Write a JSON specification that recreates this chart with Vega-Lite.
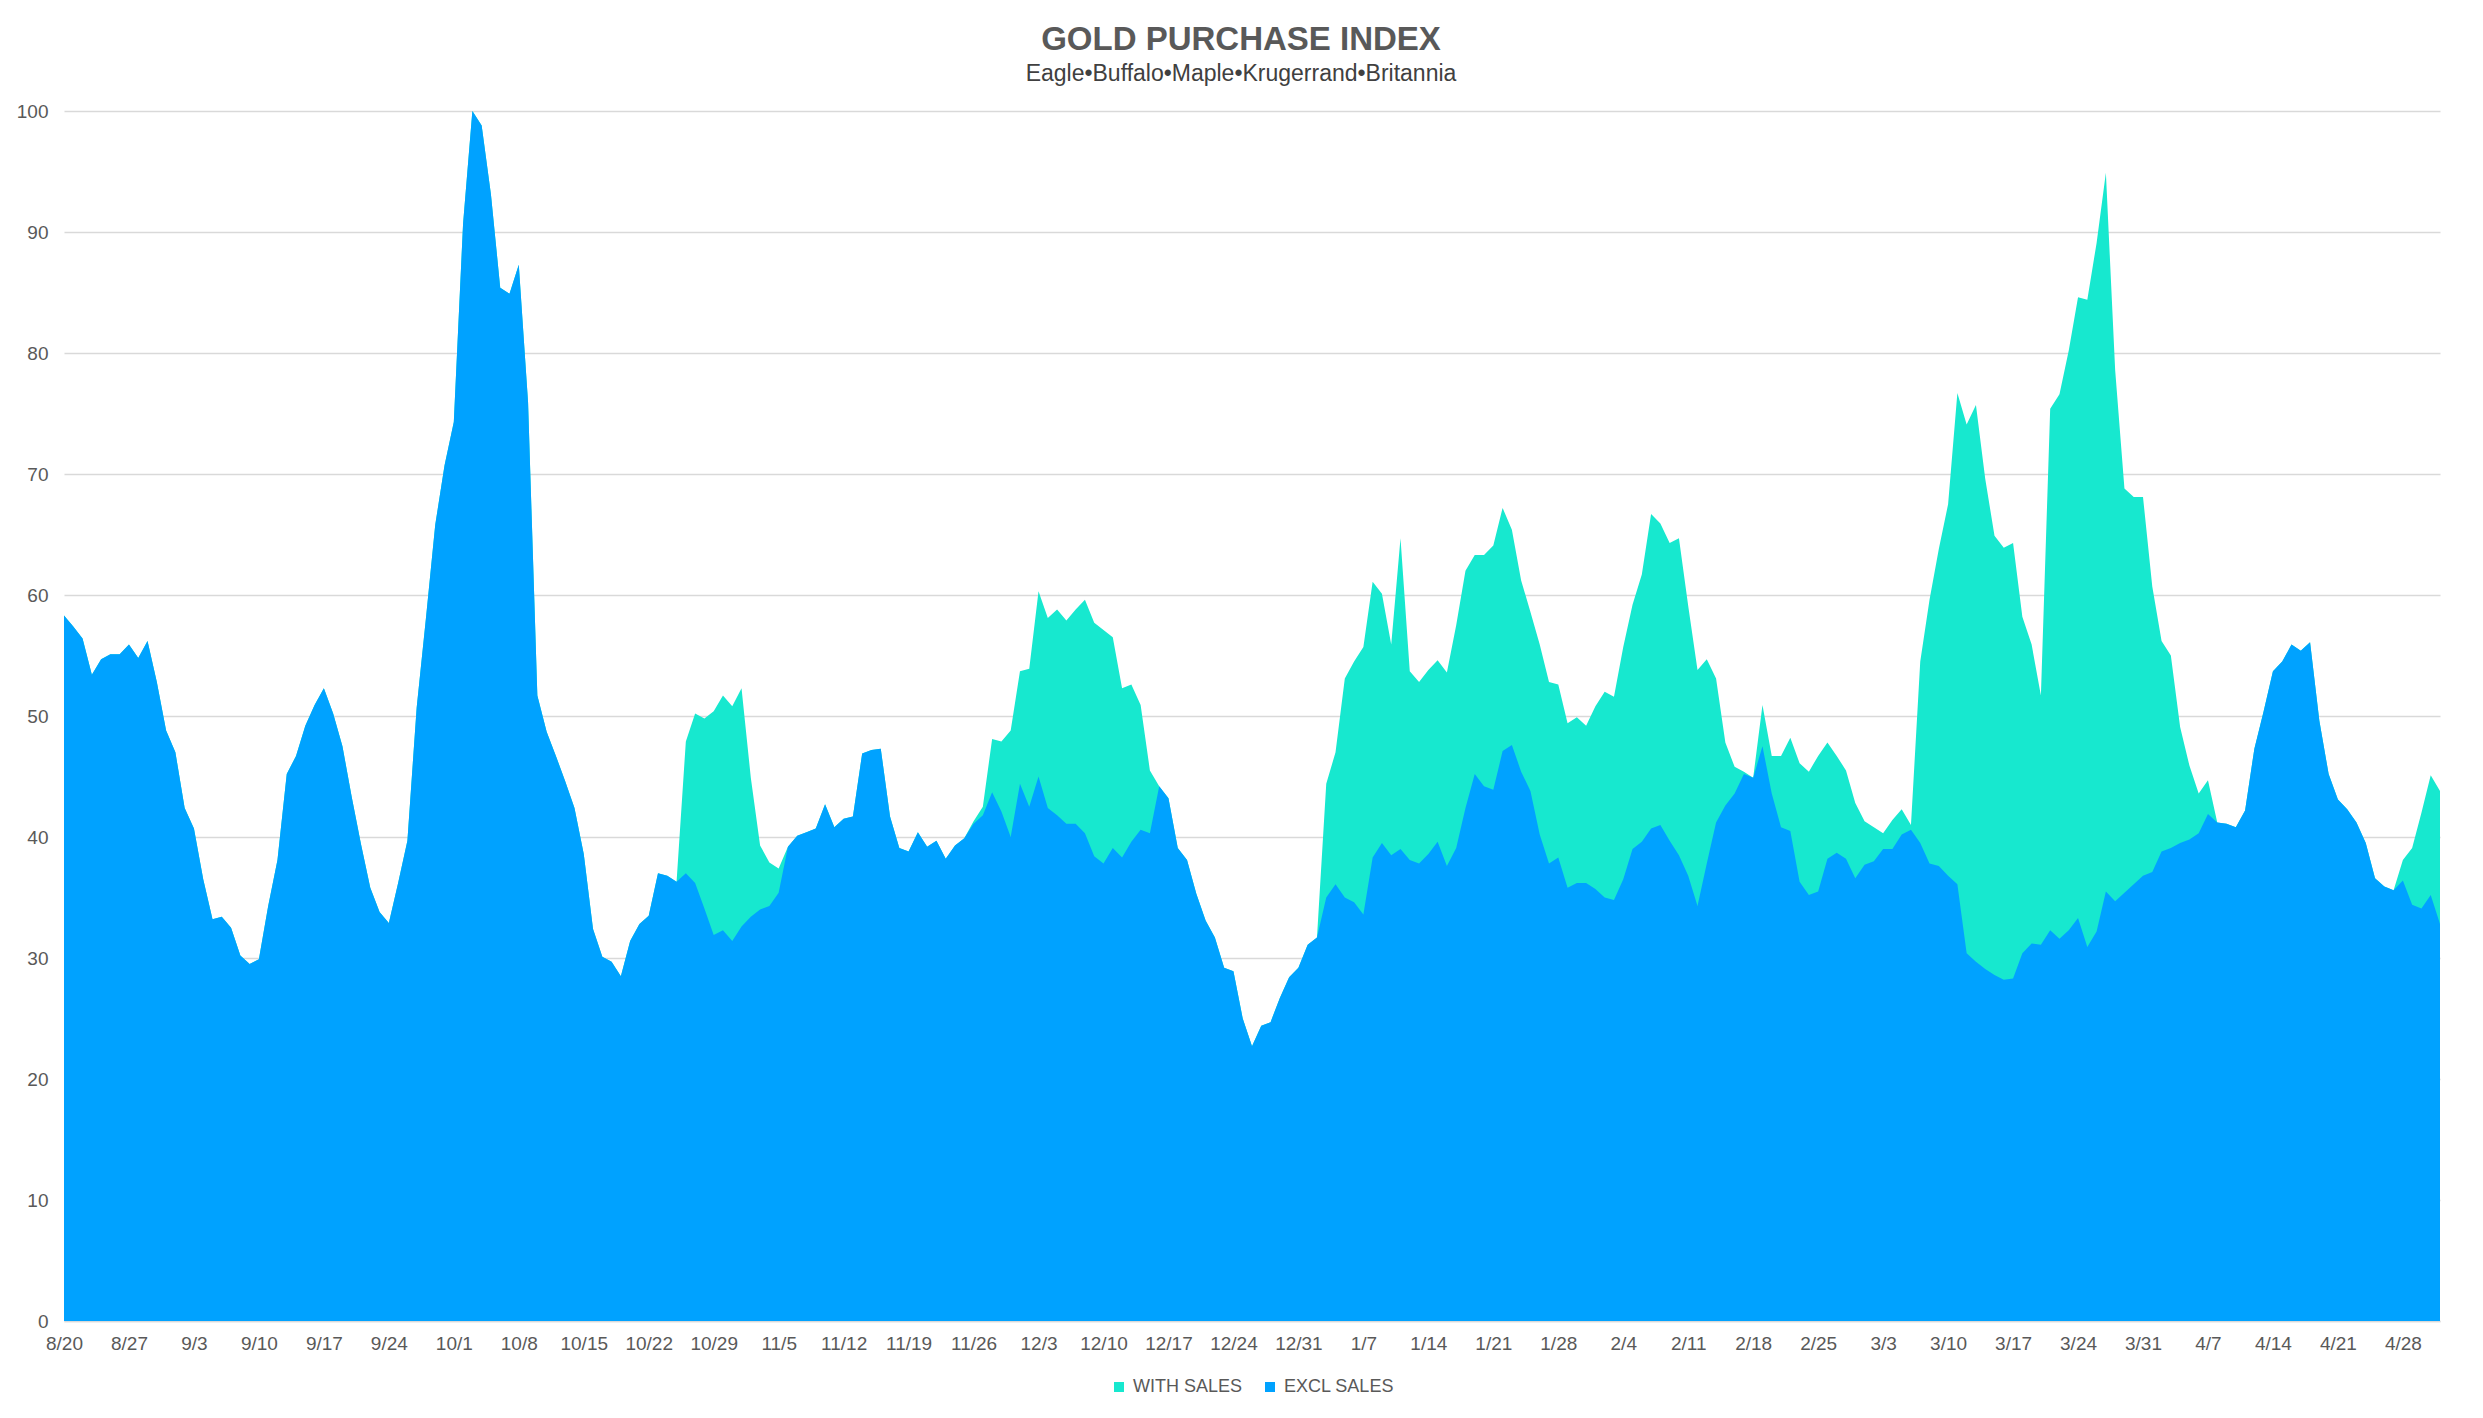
{
"$schema": "https://vega.github.io/schema/vega-lite/v6.json",
"width": 2376, "height": 1210,
"autosize": "none",
"padding": {"left": 64, "top": 111, "right": 43, "bottom": 97},
"background": "white",
"config": {"view": {"stroke": null}, "font": "Liberation Sans", "legend": {"layout": {"bottom": {"anchor": "middle"}}}},
"title": {"text": "GOLD PURCHASE INDEX", "subtitle": "Eagle•Buffalo•Maple•Krugerrand•Britannia", "font": "Liberation Sans", "subtitleFont": "Liberation Sans", "fontSize": 33, "fontWeight": "bold", "color": "#595959", "subtitleFontSize": 23, "subtitleColor": "#404040", "subtitlePadding": 6, "anchor": "middle", "offset": 16, "dx": -11},
"data": {"values": [
{"d":"2019/08/20","e":58.3,"w":58.3},{"d":"2019/08/21","e":57.4,"w":57.4},{"d":"2019/08/22","e":56.4,"w":56.4},{"d":"2019/08/23","e":53.4,"w":53.4},{"d":"2019/08/24","e":54.7,"w":54.7},{"d":"2019/08/25","e":55.1,"w":55.1},{"d":"2019/08/26","e":55.1,"w":55.1},{"d":"2019/08/27","e":55.9,"w":55.9},{"d":"2019/08/28","e":54.8,"w":54.8},{"d":"2019/08/29","e":56.2,"w":56.2},{"d":"2019/08/30","e":52.8,"w":52.8},{"d":"2019/08/31","e":48.8,"w":48.8},
{"d":"2019/09/01","e":47.0,"w":47.0},{"d":"2019/09/02","e":42.4,"w":42.4},{"d":"2019/09/03","e":40.7,"w":40.7},{"d":"2019/09/04","e":36.5,"w":36.5},{"d":"2019/09/05","e":33.2,"w":33.2},{"d":"2019/09/06","e":33.4,"w":33.4},{"d":"2019/09/07","e":32.5,"w":32.5},{"d":"2019/09/08","e":30.2,"w":30.2},{"d":"2019/09/09","e":29.5,"w":29.5},{"d":"2019/09/10","e":29.9,"w":29.9},{"d":"2019/09/11","e":34.3,"w":34.3},{"d":"2019/09/12","e":38.1,"w":38.1},{"d":"2019/09/13","e":45.2,"w":45.2},{"d":"2019/09/14","e":46.7,"w":46.7},{"d":"2019/09/15","e":49.2,"w":49.2},{"d":"2019/09/16","e":50.9,"w":50.9},{"d":"2019/09/17","e":52.3,"w":52.3},{"d":"2019/09/18","e":50.2,"w":50.2},{"d":"2019/09/19","e":47.5,"w":47.5},{"d":"2019/09/20","e":43.3,"w":43.3},{"d":"2019/09/21","e":39.4,"w":39.4},{"d":"2019/09/22","e":35.8,"w":35.8},{"d":"2019/09/23","e":33.8,"w":33.8},{"d":"2019/09/24","e":32.9,"w":32.9},{"d":"2019/09/25","e":36.2,"w":36.2},{"d":"2019/09/26","e":39.7,"w":39.7},{"d":"2019/09/27","e":50.7,"w":50.7},{"d":"2019/09/28","e":58.1,"w":58.1},{"d":"2019/09/29","e":65.8,"w":65.8},{"d":"2019/09/30","e":70.7,"w":70.7},
{"d":"2019/10/01","e":74.3,"w":74.3},{"d":"2019/10/02","e":90.7,"w":90.7},{"d":"2019/10/03","e":100,"w":100},{"d":"2019/10/04","e":98.8,"w":98.8},{"d":"2019/10/05","e":93.1,"w":93.1},{"d":"2019/10/06","e":85.4,"w":85.4},{"d":"2019/10/07","e":84.9,"w":84.9},{"d":"2019/10/08","e":87.3,"w":87.3},{"d":"2019/10/09","e":75.9,"w":75.9},{"d":"2019/10/10","e":51.7,"w":51.7},{"d":"2019/10/11","e":48.7,"w":48.7},{"d":"2019/10/12","e":46.7,"w":46.7},{"d":"2019/10/13","e":44.6,"w":44.6},{"d":"2019/10/14","e":42.4,"w":42.4},{"d":"2019/10/15","e":38.6,"w":38.6},{"d":"2019/10/16","e":32.4,"w":32.4},{"d":"2019/10/17","e":30.1,"w":30.1},{"d":"2019/10/18","e":29.7,"w":29.7},{"d":"2019/10/19","e":28.5,"w":28.5},{"d":"2019/10/20","e":31.4,"w":31.4},{"d":"2019/10/21","e":32.8,"w":32.8},{"d":"2019/10/22","e":33.5,"w":33.5},{"d":"2019/10/23","e":37.0,"w":37.0},{"d":"2019/10/24","e":36.8,"w":36.8},{"d":"2019/10/25","e":36.3,"w":36.3},{"d":"2019/10/26","e":37.0,"w":47.9},{"d":"2019/10/27","e":36.2,"w":50.2},{"d":"2019/10/28","e":34.1,"w":49.8},{"d":"2019/10/29","e":31.9,"w":50.4},{"d":"2019/10/30","e":32.3,"w":51.7},{"d":"2019/10/31","e":31.4,"w":50.8},
{"d":"2019/11/01","e":32.6,"w":52.3},{"d":"2019/11/02","e":33.4,"w":44.9},{"d":"2019/11/03","e":34.0,"w":39.3},{"d":"2019/11/04","e":34.3,"w":37.9},{"d":"2019/11/05","e":35.4,"w":37.4},{"d":"2019/11/06","e":39.2,"w":39.2},{"d":"2019/11/07","e":40.1,"w":40.1},{"d":"2019/11/08","e":40.4,"w":40.4},{"d":"2019/11/09","e":40.7,"w":40.7},{"d":"2019/11/10","e":42.7,"w":42.7},{"d":"2019/11/11","e":40.8,"w":40.8},{"d":"2019/11/12","e":41.5,"w":41.5},{"d":"2019/11/13","e":41.7,"w":41.7},{"d":"2019/11/14","e":46.9,"w":46.9},{"d":"2019/11/15","e":47.2,"w":47.2},{"d":"2019/11/16","e":47.3,"w":47.3},{"d":"2019/11/17","e":41.7,"w":41.7},{"d":"2019/11/18","e":39.1,"w":39.1},{"d":"2019/11/19","e":38.8,"w":38.8},{"d":"2019/11/20","e":40.4,"w":40.4},{"d":"2019/11/21","e":39.2,"w":39.2},{"d":"2019/11/22","e":39.7,"w":39.7},{"d":"2019/11/23","e":38.2,"w":38.2},{"d":"2019/11/24","e":39.3,"w":39.3},{"d":"2019/11/25","e":39.9,"w":39.9},{"d":"2019/11/26","e":41.1,"w":41.3},{"d":"2019/11/27","e":41.8,"w":42.5},{"d":"2019/11/28","e":43.7,"w":48.1},{"d":"2019/11/29","e":42.1,"w":47.9},{"d":"2019/11/30","e":40.0,"w":48.8},
{"d":"2019/12/01","e":44.4,"w":53.7},{"d":"2019/12/02","e":42.5,"w":53.9},{"d":"2019/12/03","e":45.0,"w":60.3},{"d":"2019/12/04","e":42.4,"w":58.1},{"d":"2019/12/05","e":41.8,"w":58.8},{"d":"2019/12/06","e":41.1,"w":57.9},{"d":"2019/12/07","e":41.1,"w":58.8},{"d":"2019/12/08","e":40.3,"w":59.6},{"d":"2019/12/09","e":38.4,"w":57.7},{"d":"2019/12/10","e":37.8,"w":57.1},{"d":"2019/12/11","e":39.1,"w":56.5},{"d":"2019/12/12","e":38.3,"w":52.3},{"d":"2019/12/13","e":39.6,"w":52.6},{"d":"2019/12/14","e":40.6,"w":50.9},{"d":"2019/12/15","e":40.3,"w":45.5},{"d":"2019/12/16","e":44.2,"w":44.2},{"d":"2019/12/17","e":43.2,"w":43.2},{"d":"2019/12/18","e":39.1,"w":39.1},{"d":"2019/12/19","e":38.1,"w":38.1},{"d":"2019/12/20","e":35.3,"w":35.3},{"d":"2019/12/21","e":33.1,"w":33.1},{"d":"2019/12/22","e":31.7,"w":31.7},{"d":"2019/12/23","e":29.2,"w":29.2},{"d":"2019/12/24","e":28.9,"w":28.9},{"d":"2019/12/25","e":25.0,"w":25.0},{"d":"2019/12/26","e":22.7,"w":22.7},{"d":"2019/12/27","e":24.4,"w":24.4},{"d":"2019/12/28","e":24.7,"w":24.7},{"d":"2019/12/29","e":26.7,"w":26.7},{"d":"2019/12/30","e":28.4,"w":28.4},{"d":"2019/12/31","e":29.2,"w":29.2},
{"d":"2020/01/01","e":31.1,"w":31.1},{"d":"2020/01/02","e":31.7,"w":31.7},{"d":"2020/01/03","e":35.0,"w":44.4},{"d":"2020/01/04","e":36.1,"w":47.0},{"d":"2020/01/05","e":35.0,"w":53.1},{"d":"2020/01/06","e":34.6,"w":54.5},{"d":"2020/01/07","e":33.6,"w":55.7},{"d":"2020/01/08","e":38.3,"w":61.1},{"d":"2020/01/09","e":39.5,"w":60.1},{"d":"2020/01/10","e":38.5,"w":55.9},{"d":"2020/01/11","e":39.0,"w":64.7},{"d":"2020/01/12","e":38.1,"w":53.7},{"d":"2020/01/13","e":37.8,"w":52.8},{"d":"2020/01/14","e":38.6,"w":53.8},{"d":"2020/01/15","e":39.6,"w":54.6},{"d":"2020/01/16","e":37.6,"w":53.6},{"d":"2020/01/17","e":39.1,"w":57.5},{"d":"2020/01/18","e":42.4,"w":62.0},{"d":"2020/01/19","e":45.2,"w":63.3},{"d":"2020/01/20","e":44.2,"w":63.3},{"d":"2020/01/21","e":43.9,"w":64.1},{"d":"2020/01/22","e":47.1,"w":67.2},{"d":"2020/01/23","e":47.6,"w":65.4},{"d":"2020/01/24","e":45.4,"w":61.2},{"d":"2020/01/25","e":43.8,"w":58.6},{"d":"2020/01/26","e":40.2,"w":55.9},{"d":"2020/01/27","e":37.8,"w":52.8},{"d":"2020/01/28","e":38.3,"w":52.6},{"d":"2020/01/29","e":35.8,"w":49.4},{"d":"2020/01/30","e":36.2,"w":49.9},{"d":"2020/01/31","e":36.2,"w":49.2},
{"d":"2020/02/01","e":35.7,"w":50.8},{"d":"2020/02/02","e":35.0,"w":52.0},{"d":"2020/02/03","e":34.8,"w":51.6},{"d":"2020/02/04","e":36.5,"w":55.7},{"d":"2020/02/05","e":39.0,"w":59.2},{"d":"2020/02/06","e":39.6,"w":61.7},{"d":"2020/02/07","e":40.7,"w":66.7},{"d":"2020/02/08","e":41.0,"w":65.9},{"d":"2020/02/09","e":39.7,"w":64.3},{"d":"2020/02/10","e":38.5,"w":64.7},{"d":"2020/02/11","e":36.8,"w":59.1},{"d":"2020/02/12","e":34.3,"w":53.8},{"d":"2020/02/13","e":37.8,"w":54.7},{"d":"2020/02/14","e":41.2,"w":53.1},{"d":"2020/02/15","e":42.6,"w":47.8},{"d":"2020/02/16","e":43.6,"w":45.8},{"d":"2020/02/17","e":45.2,"w":45.4},{"d":"2020/02/18","e":44.9,"w":44.9},{"d":"2020/02/19","e":47.5,"w":50.9},{"d":"2020/02/20","e":43.6,"w":46.7},{"d":"2020/02/21","e":40.8,"w":46.7},{"d":"2020/02/22","e":40.5,"w":48.2},{"d":"2020/02/23","e":36.3,"w":46.1},{"d":"2020/02/24","e":35.2,"w":45.4},{"d":"2020/02/25","e":35.5,"w":46.7},{"d":"2020/02/26","e":38.2,"w":47.8},{"d":"2020/02/27","e":38.7,"w":46.7},{"d":"2020/02/28","e":38.2,"w":45.5},{"d":"2020/02/29","e":36.6,"w":42.8},
{"d":"2020/03/01","e":37.7,"w":41.3},{"d":"2020/03/02","e":38.0,"w":40.8},{"d":"2020/03/03","e":39.0,"w":40.3},{"d":"2020/03/04","e":39.0,"w":41.4},{"d":"2020/03/05","e":40.2,"w":42.3},{"d":"2020/03/06","e":40.6,"w":41.0},{"d":"2020/03/07","e":39.5,"w":54.5},{"d":"2020/03/08","e":37.8,"w":59.6},{"d":"2020/03/09","e":37.6,"w":63.8},{"d":"2020/03/10","e":36.8,"w":67.5},{"d":"2020/03/11","e":36.1,"w":76.7},{"d":"2020/03/12","e":30.4,"w":74.1},{"d":"2020/03/13","e":29.7,"w":75.7},{"d":"2020/03/14","e":29.1,"w":69.6},{"d":"2020/03/15","e":28.6,"w":64.9},{"d":"2020/03/16","e":28.2,"w":63.9},{"d":"2020/03/17","e":28.3,"w":64.3},{"d":"2020/03/18","e":30.4,"w":58.2},{"d":"2020/03/19","e":31.2,"w":55.9},{"d":"2020/03/20","e":31.1,"w":51.7},{"d":"2020/03/21","e":32.3,"w":75.4},{"d":"2020/03/22","e":31.6,"w":76.6},{"d":"2020/03/23","e":32.3,"w":80.2},{"d":"2020/03/24","e":33.3,"w":84.6},{"d":"2020/03/25","e":30.9,"w":84.4},{"d":"2020/03/26","e":32.2,"w":89.1},{"d":"2020/03/27","e":35.5,"w":94.9},{"d":"2020/03/28","e":34.7,"w":78.6},{"d":"2020/03/29","e":35.4,"w":68.8},{"d":"2020/03/30","e":36.1,"w":68.1},{"d":"2020/03/31","e":36.8,"w":68.1},
{"d":"2020/04/01","e":37.1,"w":60.7},{"d":"2020/04/02","e":38.8,"w":56.2},{"d":"2020/04/03","e":39.1,"w":55.0},{"d":"2020/04/04","e":39.5,"w":49.1},{"d":"2020/04/05","e":39.8,"w":45.9},{"d":"2020/04/06","e":40.3,"w":43.6},{"d":"2020/04/07","e":41.9,"w":44.7},{"d":"2020/04/08","e":41.2,"w":41.2},{"d":"2020/04/09","e":41.1,"w":41.1},{"d":"2020/04/10","e":40.8,"w":40.8},{"d":"2020/04/11","e":42.2,"w":42.2},{"d":"2020/04/12","e":47.3,"w":47.3},{"d":"2020/04/13","e":50.4,"w":50.4},{"d":"2020/04/14","e":53.7,"w":53.7},{"d":"2020/04/15","e":54.5,"w":54.5},{"d":"2020/04/16","e":55.9,"w":55.9},{"d":"2020/04/17","e":55.4,"w":55.4},{"d":"2020/04/18","e":56.1,"w":56.1},{"d":"2020/04/19","e":49.6,"w":49.6},{"d":"2020/04/20","e":45.2,"w":45.2},{"d":"2020/04/21","e":43.1,"w":43.1},{"d":"2020/04/22","e":42.3,"w":42.3},{"d":"2020/04/23","e":41.2,"w":41.2},{"d":"2020/04/24","e":39.5,"w":39.5},{"d":"2020/04/25","e":36.6,"w":36.6},{"d":"2020/04/26","e":35.9,"w":35.9},{"d":"2020/04/27","e":35.6,"w":35.6},{"d":"2020/04/28","e":36.4,"w":38.1},{"d":"2020/04/29","e":34.4,"w":39.1},{"d":"2020/04/30","e":34.1,"w":42.0},
{"d":"2020/05/01","e":35.2,"w":45.1},{"d":"2020/05/02","e":32.8,"w":43.8}
]},
"encoding": {
 "x": {"field": "d", "type": "temporal", "title": null,
  "axis": {"format": "%-m/%-d", "labelFontSize": 19, "labelColor": "#595959", "labelFont": "Liberation Sans", "labelPadding": 13, "labelFlush": false, "labelOverlap": false, "ticks": false, "grid": false, "domain": true, "domainColor": "#D9D9D9", "domainWidth": 1.5,
   "values": [{"year":2019,"month":8,"date":20},{"year":2019,"month":8,"date":27},{"year":2019,"month":9,"date":3},{"year":2019,"month":9,"date":10},{"year":2019,"month":9,"date":17},{"year":2019,"month":9,"date":24},{"year":2019,"month":10,"date":1},{"year":2019,"month":10,"date":8},{"year":2019,"month":10,"date":15},{"year":2019,"month":10,"date":22},{"year":2019,"month":10,"date":29},{"year":2019,"month":11,"date":5},{"year":2019,"month":11,"date":12},{"year":2019,"month":11,"date":19},{"year":2019,"month":11,"date":26},{"year":2019,"month":12,"date":3},{"year":2019,"month":12,"date":10},{"year":2019,"month":12,"date":17},{"year":2019,"month":12,"date":24},{"year":2019,"month":12,"date":31},{"year":2020,"month":1,"date":7},{"year":2020,"month":1,"date":14},{"year":2020,"month":1,"date":21},{"year":2020,"month":1,"date":28},{"year":2020,"month":2,"date":4},{"year":2020,"month":2,"date":11},{"year":2020,"month":2,"date":18},{"year":2020,"month":2,"date":25},{"year":2020,"month":3,"date":3},{"year":2020,"month":3,"date":10},{"year":2020,"month":3,"date":17},{"year":2020,"month":3,"date":24},{"year":2020,"month":3,"date":31},{"year":2020,"month":4,"date":7},{"year":2020,"month":4,"date":14},{"year":2020,"month":4,"date":21},{"year":2020,"month":4,"date":28}]}}
},
"layer": [
 {"mark": {"type": "area", "interpolate": "linear", "opacity": 1},
  "encoding": {
   "y": {"field": "w", "type": "quantitative", "title": null, "scale": {"domain": [0, 100], "nice": false},
    "axis": {"values": [0,10,20,30,40,50,60,70,80,90,100], "labelFontSize": 19, "labelColor": "#595959", "labelFont": "Liberation Sans", "labelPadding": 16, "ticks": false, "domain": false, "grid": true, "gridColor": "#D9D9D9", "gridWidth": 1.3}},
   "color": {"datum": "WITH SALES", "type": "nominal",
    "scale": {"domain": ["WITH SALES", "EXCL SALES"], "range": ["#17E8CF", "#00A2FF"]},
    "legend": {"title": null, "orient": "bottom", "direction": "horizontal", "symbolType": "square", "symbolSize": 100, "symbolStrokeWidth": 0, "labelFontSize": 18, "labelColor": "#595959", "labelFont": "Liberation Sans", "labelOffset": 5, "columnPadding": 18, "offset": 25}}
  }},
 {"mark": {"type": "area", "interpolate": "linear", "opacity": 1},
  "encoding": {
   "y": {"field": "e", "type": "quantitative"},
   "color": {"datum": "EXCL SALES", "type": "nominal"}
  }}
]
}
